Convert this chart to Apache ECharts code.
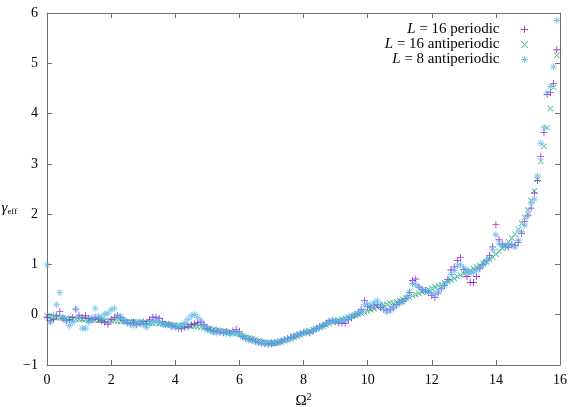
<!DOCTYPE html>
<html>
<head>
<meta charset="utf-8">
<script src="https://cdn.jsdelivr.net/npm/echarts@6/dist/echarts.min.js"></script>
<style>
html, body { margin: 0; padding: 0; background: #fff; }
#chart { width: 581px; height: 407px; }
</style>
</head>
<body>
<div id="chart"></div>
<script>
// Omega^2 sample points
var omega2 = [
    0.0, 0.1, 0.2, 0.3, 0.4, 0.5, 0.6, 0.7, 0.8, 0.9,
    1.0, 1.1, 1.2, 1.3, 1.4, 1.5, 1.6, 1.7, 1.8, 1.9,
    2.0, 2.1, 2.2, 2.3, 2.4, 2.5, 2.6, 2.7, 2.8, 2.9,
    3.0, 3.1, 3.2, 3.3, 3.4, 3.5, 3.6, 3.7, 3.8, 3.9,
    4.0, 4.1, 4.2, 4.3, 4.4, 4.5, 4.6, 4.7, 4.8, 4.9,
    5.0, 5.1, 5.2, 5.3, 5.4, 5.5, 5.6, 5.7, 5.8, 5.9,
    6.0, 6.1, 6.2, 6.3, 6.4, 6.5, 6.6, 6.7, 6.8, 6.9,
    7.0, 7.1, 7.2, 7.3, 7.4, 7.5, 7.6, 7.7, 7.8, 7.9,
    8.0, 8.1, 8.2, 8.3, 8.4, 8.5, 8.6, 8.7, 8.8, 8.9,
    9.0, 9.1, 9.2, 9.3, 9.4, 9.5, 9.6, 9.7, 9.8, 9.9,
    10.0, 10.1, 10.2, 10.3, 10.4, 10.5, 10.6, 10.7, 10.8, 10.9,
    11.0, 11.1, 11.2, 11.3, 11.4, 11.5, 11.6, 11.7, 11.8, 11.9,
    12.0, 12.1, 12.2, 12.3, 12.4, 12.5, 12.6, 12.7, 12.8, 12.9,
    13.0, 13.1, 13.2, 13.3, 13.4, 13.5, 13.6, 13.7, 13.8, 13.9,
    14.0, 14.1, 14.2, 14.3, 14.4, 14.5, 14.6, 14.7, 14.8, 14.9,
    15.0, 15.1, 15.2, 15.3, 15.4, 15.5, 15.6, 15.7, 15.8, 15.9
];

// L = 16 periodic
var periodic16 = [
    -0.05, -0.12, -0.09, -0.02, 0.06, -0.08, -0.12, -0.10, -0.06, 0.11,
    -0.01, -0.06, -0.02, -0.08, -0.10, -0.06, -0.09, -0.12, -0.15, -0.19,
    -0.10, -0.05, -0.02, -0.06, -0.12, -0.16, -0.18, -0.15, -0.20, -0.17,
    -0.14, -0.18, -0.10, -0.05, -0.05, -0.07, -0.14, -0.19, -0.19, -0.22,
    -0.24, -0.27, -0.28, -0.25, -0.24, -0.20, -0.18, -0.16, -0.15, -0.20,
    -0.28, -0.30, -0.33, -0.32, -0.35, -0.36, -0.34, -0.37, -0.32, -0.29,
    -0.33, -0.43, -0.47, -0.48, -0.50, -0.53, -0.55, -0.56, -0.58, -0.58,
    -0.57, -0.56, -0.55, -0.53, -0.50, -0.48, -0.45, -0.44, -0.40, -0.38,
    -0.35, -0.34, -0.36, -0.32, -0.28, -0.24, -0.22, -0.18, -0.12, -0.11,
    -0.13, -0.16, -0.17, -0.17, -0.10, -0.06, 0.00, 0.02, 0.10, 0.28,
    0.16, 0.15, 0.18, 0.20, 0.14, 0.11, 0.08, 0.11, 0.15, 0.20,
    0.25, 0.27, 0.32, 0.44, 0.68, 0.71, 0.55, 0.50, 0.47, 0.44,
    0.38, 0.34, 0.43, 0.52, 0.58, 0.70, 0.89, 0.95, 1.08, 1.14,
    0.90, 0.76, 0.64, 0.64, 0.76, 0.92, 1.00, 1.08, 1.18, 1.35,
    1.79, 1.49, 1.40, 1.36, 1.34, 1.40, 1.38, 1.44, 1.62, 1.85,
    1.98, 2.12, 2.42, 2.67, 3.15, 3.62, 4.38, 4.42, 4.60, 5.27
];

// L = 16 antiperiodic
var antiperiodic16 = [
    -0.02, -0.04, -0.05, -0.06, -0.06, -0.07, -0.07, -0.08, -0.08, -0.09,
    -0.09, -0.09, -0.10, -0.10, -0.10, -0.11, -0.11, -0.11, -0.12, -0.12,
    -0.12, -0.12, -0.13, -0.13, -0.13, -0.14, -0.14, -0.14, -0.15, -0.15,
    -0.16, -0.16, -0.16, -0.17, -0.17, -0.18, -0.18, -0.19, -0.19, -0.20,
    -0.21, -0.21, -0.21, -0.22, -0.22, -0.23, -0.23, -0.24, -0.25, -0.26,
    -0.27, -0.28, -0.29, -0.31, -0.32, -0.33, -0.34, -0.35, -0.37, -0.38,
    -0.40, -0.42, -0.44, -0.46, -0.48, -0.50, -0.52, -0.54, -0.55, -0.56,
    -0.57, -0.57, -0.56, -0.54, -0.52, -0.50, -0.48, -0.45, -0.43, -0.40,
    -0.38, -0.35, -0.33, -0.30, -0.28, -0.25, -0.23, -0.20, -0.18, -0.15,
    -0.13, -0.11, -0.09, -0.07, -0.05, -0.03, -0.01, 0.01, 0.03, 0.05,
    0.07, 0.10, 0.12, 0.15, 0.17, 0.20, 0.21, 0.23, 0.24, 0.26,
    0.28, 0.30, 0.33, 0.35, 0.38, 0.40, 0.42, 0.45, 0.47, 0.50,
    0.52, 0.55, 0.58, 0.60, 0.63, 0.66, 0.69, 0.72, 0.76, 0.79,
    0.82, 0.85, 0.88, 0.92, 0.95, 0.98, 1.02, 1.06, 1.11, 1.15,
    1.20, 1.26, 1.32, 1.38, 1.45, 1.52, 1.60, 1.70, 1.82, 1.94,
    2.08, 2.27, 2.46, 2.69, 3.05, 3.35, 3.72, 4.10, 4.52, 5.16
];

// L = 8 antiperiodic
var antiperiodic8 = [
    0.99, -0.15, -0.01, 0.20, 0.44, -0.05, -0.12, -0.22, -0.15, 0.11,
    -0.05, -0.27, -0.27, -0.15, -0.05, 0.13, -0.03, -0.05, 0.01, 0.03,
    0.10, 0.13, -0.02, -0.03, -0.10, -0.15, -0.18, -0.22, -0.17, -0.14,
    -0.20, -0.25, -0.18, -0.12, -0.09, -0.14, -0.18, -0.21, -0.20, -0.25,
    -0.23, -0.26, -0.22, -0.16, -0.09, -0.02, 0.01, -0.05, -0.12, -0.22,
    -0.30, -0.33, -0.35, -0.36, -0.33, -0.34, -0.37, -0.38, -0.36, -0.35,
    -0.38, -0.44, -0.46, -0.50, -0.51, -0.54, -0.55, -0.57, -0.56, -0.58,
    -0.55, -0.56, -0.53, -0.54, -0.50, -0.49, -0.47, -0.42, -0.40, -0.38,
    -0.36, -0.33, -0.35, -0.30, -0.27, -0.26, -0.22, -0.18, -0.14, -0.13,
    -0.12, -0.14, -0.12, -0.10, -0.06, -0.03, 0.00, 0.03, 0.08, 0.20,
    0.22, 0.18, 0.24, 0.28, 0.20, 0.12, 0.07, 0.08, 0.13, 0.18,
    0.22, 0.26, 0.33, 0.45, 0.62, 0.60, 0.55, 0.50, 0.48, 0.45,
    0.42, 0.40, 0.46, 0.53, 0.58, 0.66, 0.80, 0.88, 0.98, 1.00,
    0.93, 0.88, 0.82, 0.85, 0.88, 0.95, 1.00, 1.05, 1.12, 1.30,
    1.59, 1.42, 1.38, 1.35, 1.37, 1.38, 1.35, 1.48, 1.65, 1.78,
    1.98, 2.22, 2.30, 2.76, 3.41, 3.72, 4.41, 4.54, 4.93, 5.85
];

var seriesNames = ['L = 16 periodic', 'L = 16 antiperiodic', 'L = 8 antiperiodic'];
var seriesColors = ['#9400d3', '#009e73', '#56b4e9'];

// gnuplot style point shapes (+, x, *)
var plusPath = 'path://M0,4.4H10V5.6H0Z M4.4,0H5.6V10H4.4Z';
var crossPath = 'path://M0,0.85L0.85,0L10,9.15L9.15,10Z M10,0.85L9.15,0L0,9.15L0.85,10Z';
var starPath = 'path://M0,4.4H10V5.6H0Z M4.4,0H5.6V10H4.4Z M1,1.7L1.7,1L9,8.3L8.3,9Z M9,1.7L8.3,1L1,8.3L1.7,9Z';

var serifFont = '"Liberation Serif", "DejaVu Serif", serif';
var axisColor = '#707070';

function pairs(ys) {
    return omega2.map(function (x, i) {
        return [x, ys[i]];
    });
}

function minusSign(v) {
    return String(v).replace('-', '\u2212');
}

var myChart = echarts.init(document.getElementById('chart'), null, {renderer: 'canvas'});

var option = {
    animation: false,
    backgroundColor: '#fff',
    grid: {
        left: 47,
        right: 21,
        top: 13,
        bottom: 42,
        containLabel: false,
        outerBoundsMode: 'none'
    },
    legend: {
        orient: 'vertical',
        right: 48,
        top: 17,
        align: 'right',
        itemWidth: 40,
        itemHeight: 7,
        itemGap: 0,
        symbolKeepAspect: true,
        data: seriesNames,
        formatter: function (name) {
            return '{i|L}' + name.slice(1);
        },
        textStyle: {
            fontFamily: serifFont,
            fontSize: 15,
            color: '#000',
            lineHeight: 13,
            rich: {
                i: {fontFamily: serifFont, fontSize: 15, fontStyle: 'italic', color: '#000'}
            }
        }
    },
    xAxis: [{
        type: 'value',
        min: 0,
        max: 16,
        interval: 2,
        name: '\u03a9{sup|2}',
        nameLocation: 'middle',
        nameGap: 24,
        nameTextStyle: {
            fontFamily: serifFont,
            fontSize: 15,
            color: '#000',
            rich: {
                sup: {fontFamily: serifFont, fontSize: 10, color: '#000', padding: [0, 0, 8, 0]}
            }
        },
        axisLine: {show: true, onZero: false, lineStyle: {color: axisColor, width: 1}},
        axisTick: {show: true, inside: true, length: 5, lineStyle: {color: axisColor}},
        axisLabel: {fontFamily: serifFont, fontSize: 14, color: '#000', margin: 8},
        splitLine: {show: false}
    }, {
        type: 'value',
        position: 'top',
        min: 0,
        max: 16,
        interval: 2,
        axisLine: {show: true, onZero: false, lineStyle: {color: axisColor, width: 1}},
        axisTick: {show: true, inside: true, length: 5, lineStyle: {color: axisColor}},
        axisLabel: {show: false},
        splitLine: {show: false}
    }],
    yAxis: [{
        type: 'value',
        min: -1,
        max: 6,
        interval: 1,
        name: '{g|\u03b3}{s|eff}',
        nameLocation: 'middle',
        nameRotate: 0,
        nameGap: 17,
        nameTextStyle: {
            fontFamily: serifFont,
            fontSize: 14,
            color: '#000',
            padding: [38, 0, 0, 0],
            rich: {
                g: {fontFamily: serifFont, fontSize: 15, fontStyle: 'italic', color: '#000'},
                s: {fontFamily: serifFont, fontSize: 9, color: '#000', padding: [8, 0, 0, 0]}
            }
        },
        axisLine: {show: true, onZero: false, lineStyle: {color: axisColor, width: 1}},
        axisTick: {show: true, inside: true, length: 5, lineStyle: {color: axisColor}},
        axisLabel: {fontFamily: serifFont, fontSize: 14, color: '#000', margin: 9, formatter: minusSign},
        splitLine: {show: false}
    }, {
        type: 'value',
        position: 'right',
        min: -1,
        max: 6,
        interval: 1,
        axisLine: {show: true, onZero: false, lineStyle: {color: axisColor, width: 1}},
        axisTick: {show: true, inside: true, length: 5, lineStyle: {color: axisColor}},
        axisLabel: {show: false},
        splitLine: {show: false}
    }],
    series: [{
        name: seriesNames[0],
        type: 'scatter',
        data: pairs(periodic16),
        symbol: plusPath,
        symbolSize: 7,
        itemStyle: {color: seriesColors[0]}
    }, {
        name: seriesNames[1],
        type: 'scatter',
        data: pairs(antiperiodic16),
        symbol: crossPath,
        symbolSize: 6,
        itemStyle: {color: seriesColors[1]}
    }, {
        name: seriesNames[2],
        type: 'scatter',
        data: pairs(antiperiodic8),
        symbol: starPath,
        symbolSize: 7,
        itemStyle: {color: seriesColors[2]}
    }]
};

myChart.setOption(option);
</script>
</body>
</html>
